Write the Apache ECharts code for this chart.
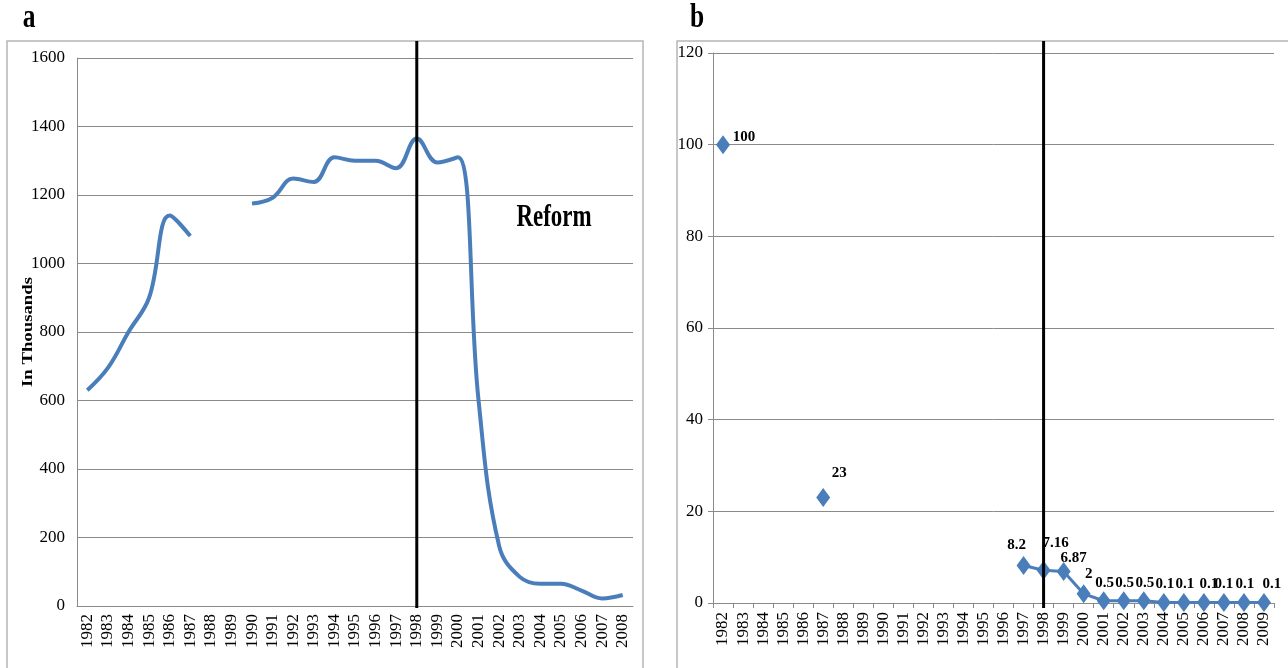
<!DOCTYPE html>
<html>
<head>
<meta charset="utf-8">
<script src="https://cdn.jsdelivr.net/npm/echarts@6/dist/echarts.min.js"></script>
<style>
html,body{margin:0;padding:0;background:#fff;}
#c{width:1288px;height:668px;}
</style>
</head>
<body>
<div id="c"></div>
<script>
// ---- Data ----
const leftYears = ['1982','1983','1984','1985','1986','1987','1988','1989','1990','1991','1992','1993','1994','1995','1996','1997','1998','1999','2000','2001','2002','2003','2004','2005','2006','2007','2008'];
const leftValues = [630,695,800,900,1140,1080,null,null,1175,1192,1248,1238,1310,1300,1300,1278,1365,1295,1310,600,175,85,65,65,45,22,32];
const leftYTicks = [0,200,400,600,800,1000,1200,1400,1600];

const rightYears = ['1982','1983','1984','1985','1986','1987','1988','1989','1990','1991','1992','1993','1994','1995','1996','1997','1998','1999','2000','2001','2002','2003','2004','2005','2006','2007','2008','2009'];
const rightValues = [100,null,null,null,null,23,null,null,null,null,null,null,null,null,null,8.2,7.16,6.87,2,0.5,0.5,0.5,0.1,0.1,0.1,0.1,0.1,0.1];
const rightYTicks = [0,20,40,60,80,100,120];

const reformYear = '1998';
const panelLabels = ['a','b'];
const reformText = 'Reform';
const yAxisTitle = 'In Thousands';

// ---- Styles ----
const SERIF = '"Liberation Serif","Times New Roman",serif';
const BLUE = '#4a7ebb';
const GRID = '#8a8a8a';

const labelOffsets = {
  '1982':[21,-8], '1987':[16,-24], '1997':[-7,-20], '1998':[12,-27], '1999':[10,-13],
  '2000':[5,-20], '2001':[1,-18], '2002':[1,-18], '2003':[1,-18], '2004':[1,-18],
  '2005':[1,-18], '2006':[5,-18], '2007':[0,-18], '2008':[1,-18], '2009':[8,-18]
};

const rightData = rightValues.map((v, i) => {
  if (v == null) return null;
  const off = labelOffsets[rightYears[i]] || [0,-18];
  return { value: v, label: { offset: off } };
});

const chart = echarts.init(document.getElementById('c'), null, {renderer:'canvas'});

const plain = v => String(v);

const option = {
  animation: false,
  backgroundColor: '#fff',
  grid: [
    {left: 77, right: 1288 - 633, top: 58, bottom: 668 - 606, containLabel: false},
    {left: 713, right: 1288 - 1274, top: 53, bottom: 668 - 603, containLabel: false}
  ],
  xAxis: [
    {
      gridIndex: 0, type: 'category', data: leftYears, boundaryGap: true,
      axisLine: {show: true, lineStyle: {color: GRID, width: 1}},
      axisTick: {show: false},
      axisLabel: {rotate: 90, fontFamily: SERIF, fontSize: 17, color: '#000', margin: 8, interval: 0}
    },
    {
      gridIndex: 1, type: 'category', data: rightYears, boundaryGap: true,
      axisLine: {show: true, lineStyle: {color: GRID, width: 1}},
      axisTick: {show: true, length: 5, inside: false, lineStyle: {color: GRID}, interval: 0},
      axisLabel: {rotate: 90, fontFamily: SERIF, fontSize: 17, color: '#000', margin: 9, interval: 0}
    }
  ],
  yAxis: [
    {
      gridIndex: 0, type: 'value', min: leftYTicks[0], max: leftYTicks[leftYTicks.length-1], interval: 200,
      axisLine: {show: true, lineStyle: {color: GRID, width: 1}},
      axisTick: {show: false},
      splitLine: {show: true, lineStyle: {color: GRID, width: 1}},
      axisLabel: {fontFamily: SERIF, fontSize: 17, color: '#000', margin: 12, formatter: plain}
    },
    {
      gridIndex: 1, type: 'value', min: rightYTicks[0], max: rightYTicks[rightYTicks.length-1], interval: 20,
      axisLine: {show: true, lineStyle: {color: GRID, width: 1}},
      axisTick: {show: true, length: 5, lineStyle: {color: GRID}},
      splitLine: {show: true, lineStyle: {color: GRID, width: 1}},
      axisLabel: {fontFamily: SERIF, fontSize: 17, color: '#000', margin: 10, formatter: plain}
    }
  ],
  series: [
    {
      type: 'line', xAxisIndex: 0, yAxisIndex: 0, data: leftValues,
      smooth: 0.4, connectNulls: false, showSymbol: false, symbol: 'none',
      lineStyle: {color: BLUE, width: 4}
    },
    {
      type: 'line', xAxisIndex: 1, yAxisIndex: 1, data: rightData,
      connectNulls: false, showSymbol: true, symbol: 'diamond', symbolSize: [14, 19],
      itemStyle: {color: BLUE},
      lineStyle: {color: BLUE, width: 3},
      label: {
        show: true, position: 'inside', fontFamily: SERIF, fontSize: 15, fontWeight: 'bold', color: '#000',
        formatter: p => String(p.value)
      }
    }
  ]
};
chart.setOption(option);

const xL = chart.convertToPixel({xAxisIndex: 0}, reformYear);
const xR = chart.convertToPixel({xAxisIndex: 1}, reformYear);

chart.setOption({
  graphic: [
    {type: 'rect', shape: {x: 7, y: 41, width: 636, height: 700}, style: {fill: 'none', stroke: '#b5b5b5', lineWidth: 1.5}, z: -1},
    {type: 'rect', shape: {x: 677, y: 41, width: 700, height: 700}, style: {fill: 'none', stroke: '#b5b5b5', lineWidth: 1.5}, z: -1},
    {type: 'line', shape: {x1: xL, y1: 41, x2: xL, y2: 608}, style: {stroke: '#000', lineWidth: 3}, z: 100},
    {type: 'line', shape: {x1: xR, y1: 41, x2: xR, y2: 608}, style: {stroke: '#000', lineWidth: 3}, z: 100},
    {type: 'text', x: 29, y: 18, scaleX: 0.85, scaleY: 1.1, style: {text: panelLabels[0], font: 'bold 30px ' + SERIF, fill: '#000', textAlign: 'center', textVerticalAlign: 'middle'}},
    {type: 'text', x: 697, y: 18, scaleX: 0.85, scaleY: 1.1, style: {text: panelLabels[1], font: 'bold 30px ' + SERIF, fill: '#000', textAlign: 'center', textVerticalAlign: 'middle'}},
    {type: 'text', x: 554, y: 218, scaleX: 0.82, scaleY: 1.12, style: {text: reformText, font: 'bold 28px ' + SERIF, fill: '#000', textAlign: 'center', textVerticalAlign: 'middle'}},
    {type: 'text', x: 28, y: 332, rotation: Math.PI/2, scaleX: 1.25, style: {text: yAxisTitle, font: 'bold 15px ' + SERIF, fill: '#000', textAlign: 'center', textVerticalAlign: 'middle'}}
  ]
});
</script>
</body>
</html>
